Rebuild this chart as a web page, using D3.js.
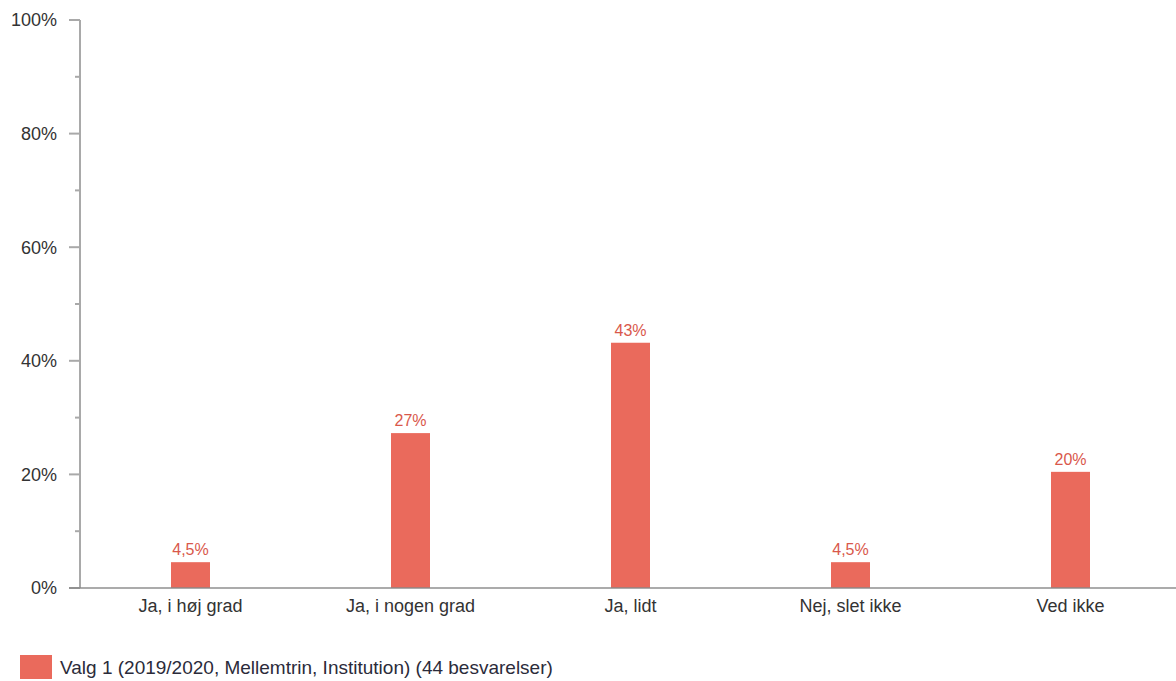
<!DOCTYPE html>
<html><head><meta charset="utf-8">
<script src="https://cdn.jsdelivr.net/npm/d3@7"></script>
<style>body{margin:0;background:#fff;}svg{display:block;font-family:"Liberation Sans",Arial,sans-serif;}</style>
</head><body><svg id="c" width="1176" height="681"></svg>
<script>
const categories = ["Ja, i høj grad","Ja, i nogen grad","Ja, lidt","Nej, slet ikke","Ved ikke"];
const values = [4.545, 27.27, 43.18, 4.545, 20.45];
const valueLabels = ["4,5%","27%","43%","4,5%","20%"];
const yTicks = [0,20,40,60,80,100];
const yMinorTicks = [10,30,50,70,90];
const seriesName = "Valg 1 (2019/2020, Mellemtrin, Institution) (44 besvarelser)";

const svg = d3.select("#c");
const yTop = 20, yBot = 588;
const x = d3.scaleBand().domain(categories).range([80.5, 1180.5]);
const y = d3.scaleLinear().domain([0,100]).range([yBot, yTop]);
const barW = 39;
const barColor = "#EA6A5C";
const axisColor = "#a9a9a9";

// bars
svg.append("g").selectAll("rect").data(categories).join("rect")
  .attr("x", (d) => x(d) + x.bandwidth()/2 - barW/2)
  .attr("y", (d,i) => y(values[i]))
  .attr("width", barW)
  .attr("height", (d,i) => y(0) - y(values[i]))
  .attr("fill", barColor);

// value labels
svg.append("g").selectAll("text").data(categories).join("text")
  .attr("x", (d) => x(d) + x.bandwidth()/2)
  .attr("y", (d,i) => y(values[i]) - 7)
  .attr("text-anchor","middle")
  .attr("font-size", 16)
  .attr("fill", "#d9584b")
  .text((d,i) => valueLabels[i]);

// y axis
const yAxis = svg.append("g");
yAxis.append("line").attr("x1", 80).attr("x2", 80).attr("y1", yTop).attr("y2", yBot)
  .attr("stroke", axisColor).attr("stroke-width", 2);
yAxis.selectAll("line.maj").data(yTicks).join("line").attr("class","maj")
  .attr("x1", 69).attr("x2", 80).attr("y1", d => y(d)).attr("y2", d => y(d))
  .attr("stroke", axisColor).attr("stroke-width", 2);
yAxis.selectAll("line.min").data(yMinorTicks).join("line").attr("class","min")
  .attr("x1", 75).attr("x2", 80).attr("y1", d => y(d)).attr("y2", d => y(d))
  .attr("stroke", axisColor).attr("stroke-width", 2);
yAxis.selectAll("text").data(yTicks).join("text")
  .attr("x", 57).attr("y", d => y(d)).attr("dy","0.35em")
  .attr("text-anchor","end").attr("font-size", 18).attr("fill", "#333")
  .text(d => d + "%");

// x axis
svg.append("line").attr("x1", 69).attr("x2", 1176).attr("y1", yBot).attr("y2", yBot)
  .attr("stroke", "#888").attr("stroke-opacity", 0.7).attr("stroke-width", 2);
svg.append("g").selectAll("text").data(categories).join("text")
  .attr("x", d => x(d) + x.bandwidth()/2).attr("y", 606).attr("dy","0.35em")
  .attr("text-anchor","middle").attr("font-size", 18).attr("fill", "#333")
  .text(d => d);

// legend
svg.append("rect").attr("x", 20).attr("y", 655).attr("width", 32).attr("height", 24).attr("fill", barColor);
svg.append("text").attr("x", 60).attr("y", 667).attr("dy","0.35em")
  .attr("font-size", 19).attr("fill", "#2b2b3a").text(seriesName);
</script></body></html>
